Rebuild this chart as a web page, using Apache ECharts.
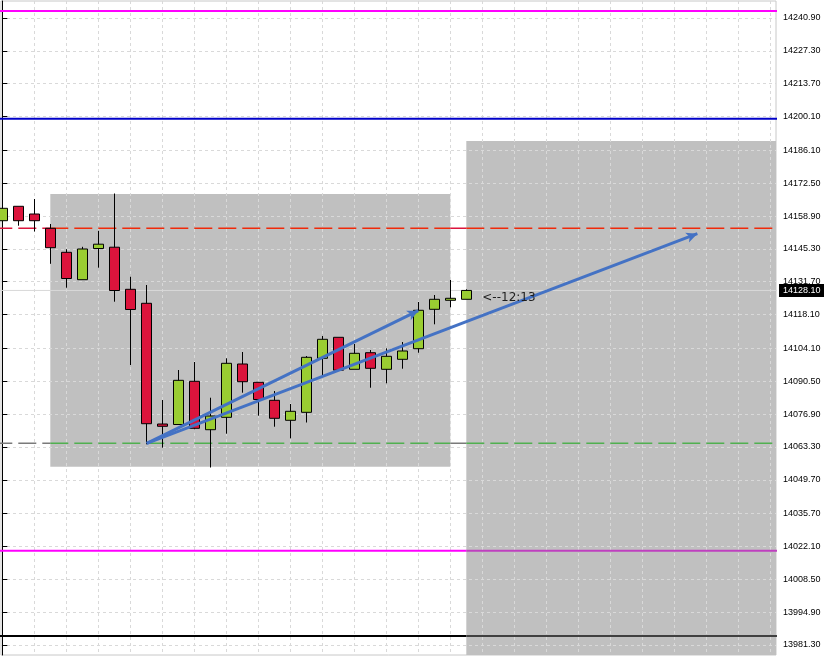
<!DOCTYPE html>
<html><head><meta charset="utf-8">
<script src="https://cdn.jsdelivr.net/npm/echarts@6/dist/echarts.min.js"></script>
<style>html,body{margin:0;padding:0;background:#fff}#c{width:824px;height:656px}</style>
</head><body><div id="c"></div>
<script>
// ---- data ----
const candleIndex = [0,1,2,3,4,5,6,7,8,9,10,11,12,13,14,15,16,17,18,19,20,21,22,23,24,25,26,27,28,29];
const opens  = [14156.97,14162.94,14159.75,14153.83,14143.89,14132.55,14145.46,14146.00,14128.57,14122.78,14072.80,14072.59,14090.48,14070.44,14075.57,14097.64,14090.07,14082.61,14074.33,14077.64,14100.00,14108.70,14095.45,14102.32,14095.45,14099.59,14103.98,14120.29,14124.02,14124.43];
const closes = [14162.11,14156.97,14156.97,14145.80,14133.04,14145.26,14147.25,14128.07,14120.21,14072.92,14071.85,14090.89,14071.02,14076.11,14097.93,14090.31,14082.94,14075.16,14078.06,14100.42,14107.87,14095.08,14102.07,14095.86,14100.83,14103.03,14119.88,14124.43,14124.85,14128.10];
const lows   = [14156.97,14154.90,14152.50,14139.13,14129.23,14132.55,14137.51,14123.44,14097.23,14064.40,14062.99,14072.59,14070.61,14054.79,14068.78,14085.76,14076.24,14071.68,14066.88,14073.42,14092.88,14095.08,14095.45,14087.83,14089.65,14095.70,14102.32,14114.08,14121.12,14124.43];
const highs  = [14164.43,14162.94,14165.96,14155.61,14145.18,14146.17,14152.79,14168.24,14133.75,14130.35,14082.74,14095.16,14098.47,14083.69,14100.00,14102.61,14090.07,14086.46,14081.08,14100.95,14109.24,14108.70,14105.92,14103.44,14104.14,14106.75,14123.31,14126.21,14132.42,14128.57];
const priceTicks = [14240.90,14227.30,14213.70,14200.10,14186.10,14172.50,14158.90,14145.30,14131.70,14118.10,14104.10,14090.50,14076.90,14063.30,14049.70,14035.70,14022.10,14008.50,13994.90,13981.30];
const barGridTicks = [0,2,4,6,8,10,12,14,16,18,20,22,24,26,28,30,32,34,36,38,40,42,44,46,48];
const bidPrice = 14128.10;
const levelMagentaTop = 14243.80;
const levelBlue = 14199.20;
const levelRedDashed = 14153.83;
const levelGreenDashed = 14064.81;
const levelMagentaBottom = 14020.34;
const levelBlack = 13985.02;
const zone1X = [3, 28];
const zone1Y = [14055.12, 14168.03];
const zone2X = [29, 60];
const zone2Y = [13960.00, 14189.97];
const arrowStart = [9.025, 14064.81];
const arrow1End = [26.0, 14119.71];
const arrow2End = [43.44, 14151.59];
const timeLabel = '<--12:13';
const timeLabelAnchor = [30, 14128.10];

// ---- layout (view window) ----
const X_MIN = -0.08125, X_MAX = 48.356;
const Y_MIN = 13977.16, Y_MAX = 14247.94;
const zones = [[zone1X, zone1Y], [zone2X, zone2Y]];

function levelSegments(price, colorWhite, colorGray, width, dash, z) {
  let cuts = [];
  zones.forEach(([zx, zy]) => {
    if (price >= zy[0] && price <= zy[1]) cuts.push([zx[0], zx[1]]);
  });
  cuts.sort((a,b)=>a[0]-b[0]);
  const segs = [];
  let cur = -5;
  cuts.forEach(c => {
    if (c[0] > cur) segs.push([cur, c[0], colorWhite]);
    segs.push([c[0], c[1], colorGray]);
    cur = c[1];
  });
  if (cur < 70) segs.push([cur, 70, colorWhite]);
  return segs.map(s => ({
    type: 'line', silent: true, animation: false, z: z || 2,
    symbol: 'none', showSymbol: false, clip: true,
    data: [[s[0], price], [s[1], price]],
    lineStyle: { color: s[2], width: width, type: dash || 'solid' }
  }));
}

const chart = echarts.init(document.getElementById('c'), null, { renderer: 'canvas' });

const series = [];
series.push({
  type: 'custom', z: 1, silent: true, animation: false, clip: true,
  encode: { x: [0, 1], y: [2, 3] },
  data: zones.map(([zx, zy]) => [zx[0], zx[1], zy[0], zy[1]]),
  renderItem: function (params, api) {
    const a = api.coord([api.value(0), api.value(3)]);
    const b = api.coord([api.value(1), api.value(2)]);
    return { type: 'rect', shape: { x: a[0], y: a[1], width: b[0] - a[0], height: b[1] - a[1] },
             style: { fill: '#c0c0c0' } };
  }
});
levelSegments(levelMagentaTop, '#ff00ff', '#c040c0', 2).forEach(s => series.push(s));
levelSegments(levelBlue, '#0000c8', '#0000c8', 2).forEach(s => series.push(s));
levelSegments(levelMagentaBottom, '#ff00ff', '#bf40bf', 2).forEach(s => series.push(s));
levelSegments(levelBlack, '#000000', '#404040', 2).forEach(s => series.push(s));
levelSegments(levelRedDashed, '#dc143c', '#f02a0a', 1.5, [18, 6]).forEach(s => series.push(s));
levelSegments(levelGreenDashed, '#7a7a7a', '#50b050', 1.5, [18, 6]).forEach(s => series.push(s));

// bid line
series.push({
  type: 'line', silent: true, animation: false, z: 2, symbol: 'none', showSymbol: false, clip: true,
  data: [[-5, bidPrice], [70, bidPrice]],
  lineStyle: { color: '#d8d8d8', width: 1 }
});

series.push({
  type: 'candlestick', z: 3, animation: false, silent: true,
  barWidth: 10,
  encode: { x: 0, y: [1, 2, 3, 4] },
  data: candleIndex.map((x, i) => [x, opens[i], closes[i], lows[i], highs[i]]),
  itemStyle: { color: '#9acd32', color0: '#dc143c', borderColor: '#000', borderColor0: '#000', borderWidth: 1 },
  markLine: {
    silent: true, animation: false, symbol: ['none', 'arrow'], symbolSize: [8, 11],
    lineStyle: { color: '#4472c4', width: 3, type: 'solid' },
    label: { show: false },
    data: [
      [{ coord: arrowStart }, { coord: arrow1End }],
      [{ coord: arrowStart }, { coord: arrow2End }]
    ]
  }
});

chart.setOption({
  animation: false,
  backgroundColor: '#fff',
  grid: { left: 1, right: 48, top: 1, bottom: 1, show: true, borderColor: '#c8c8c8', borderWidth: 1, backgroundColor: '#fff' },
  xAxis: {
    type: 'value', min: X_MIN, max: X_MAX, z: 1.5,
    axisLine: { show: false }, axisLabel: { show: false },
    axisTick: { show: false, customValues: barGridTicks },
    splitLine: { show: true, lineStyle: { color: '#d9d9d9', type: [3, 3], width: 1 } }
  },
  yAxis: {
    type: 'value', position: 'right', min: Y_MIN, max: Y_MAX, z: 1.5,
    axisLine: { show: true, lineStyle: { color: '#000', width: 1 } },
    axisTick: { show: true, length: 5, lineStyle: { color: '#000' }, customValues: priceTicks },
    axisLabel: { customValues: priceTicks, formatter: v => v.toFixed(2), color: '#000',
                 fontSize: 9, fontFamily: 'Liberation Sans', margin: 7 },
    splitLine: { show: true, lineStyle: { color: '#d9d9d9', type: [3, 3], width: 1 } }
  },
  series: series
});

const tp = chart.convertToPixel({ gridIndex: 0 }, timeLabelAnchor);
const bp = chart.convertToPixel({ gridIndex: 0 }, [X_MAX, bidPrice]);
chart.setOption({
  graphic: [{
    type: 'text', x: tp[0], y: tp[1] + 1, z: 10, silent: true,
    style: { text: timeLabel, font: '12px "DejaVu Sans"', fill: '#1e1e1e', verticalAlign: 'top', align: 'left' }
  }, {
    type: 'text', x: bp[0] + 3, y: bp[1], z: 10, silent: true,
    style: { text: bidPrice.toFixed(2), font: '9px "Liberation Sans"', fill: '#fff',
             verticalAlign: 'middle', align: 'left', backgroundColor: '#000',
             padding: [2, 4, 2, 4] }
  }]
});
</script>
</body></html>
